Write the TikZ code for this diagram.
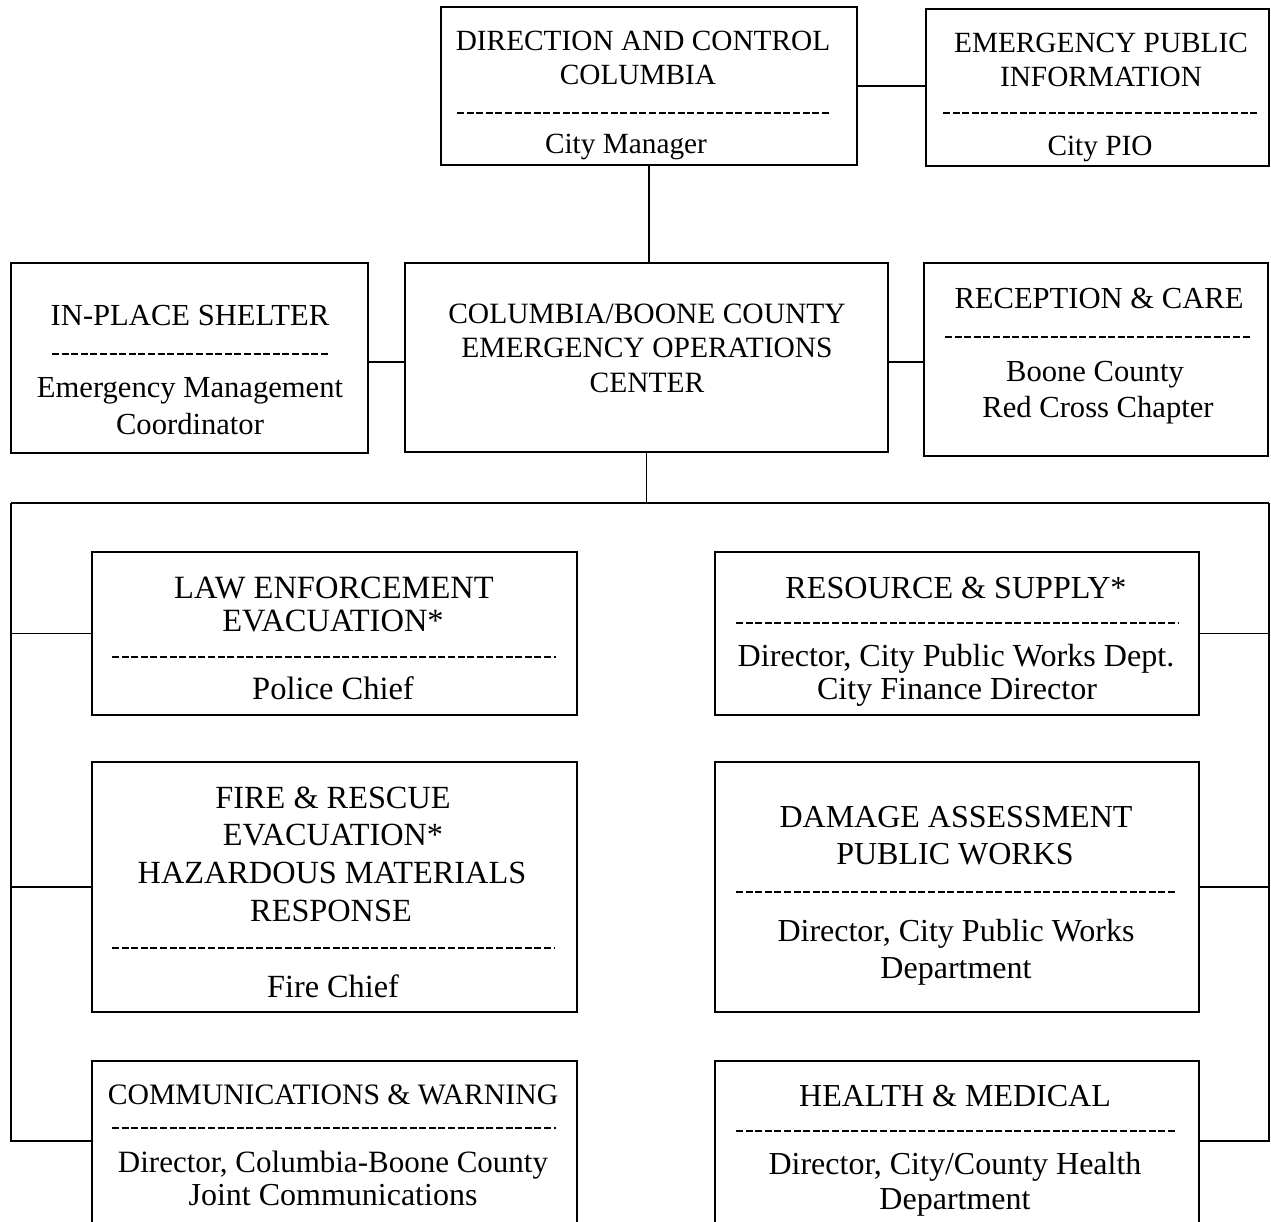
\documentclass[tikz,border=0pt]{standalone}
\usepackage{fontspec}
\setmainfont{Liberation Serif}
\begin{document}
\begin{tikzpicture}[x=1pt,y=-1pt,
  box/.style={draw, line width=1.8pt, inner sep=0pt, outer sep=0pt, rectangle},
  txt/.style={anchor=base, inner sep=0pt, font=\fontsize{29}{34}\selectfont},
  fs/.style={font=\fontsize{#1}{#1}\selectfont},
  sep/.style={line width=1.5pt, dash pattern=on 7pt off 2.6pt},
  conn/.style={line width=1.8pt}]
\useasboundingbox (0,0) rectangle (1271,1222);
\clip (0,0) rectangle (1271,1222);
\fill[white] (0,0) rectangle (1271,1222);

% boxes
\node[box, minimum width=416pt, minimum height=158pt] (DC) at (649,86) {};
\node[box, minimum width=343pt, minimum height=157pt] (EPI) at (1097.5,87.5) {};
\node[box, minimum width=357pt, minimum height=190pt] (IPS) at (189.5,358) {};
\node[box, minimum width=483pt, minimum height=189pt] (EOC) at (646.5,357.5) {};
\node[box, minimum width=344pt, minimum height=193pt] (REC) at (1096,359.5) {};
\node[box, minimum width=485pt, minimum height=163pt] (LAW) at (334.5,633.5) {};
\node[box, minimum width=484pt, minimum height=163pt] (RES) at (957,633.5) {};
\node[box, minimum width=485pt, minimum height=250pt] (FIRE) at (334.5,887) {};
\node[box, minimum width=484pt, minimum height=250pt] (DAM) at (957,887) {};
\node[box, minimum width=485pt, minimum height=199pt] (COMM) at (334.5,1160.5) {};
\node[box, minimum width=484pt, minimum height=199pt] (HEA) at (957,1160.5) {};

% texts
\node[txt, fs=29.3] (dc1) at (643,51) {DIRECTION AND CONTROL};
\node[txt, fs=29.3] (dc2) at (638,85) {COLUMBIA};
\node[txt, fs=29.3] (dc3) at (626,154) {City Manager};
\draw[sep] (457,113) -- (829,113);

\node[txt, fs=29.3] (ep1) at (1101,53) {EMERGENCY PUBLIC};
\node[txt, fs=29.3] (ep2) at (1101,87) {INFORMATION};
\node[txt, fs=29.3] (ep3) at (1100,156) {City PIO};
\draw[sep] (943,113) -- (1257,113);

\node[txt, fs=30.6] (ip1) at (190,325.5) {IN-PLACE SHELTER};
\node[txt, fs=30.6] (ip2) at (190,397.5) {Emergency Management};
\node[txt, fs=30.6] (ip3) at (190,434.5) {Coordinator};
\draw[sep] (52,354) -- (328,354);

\node[txt, fs=29.5] (eo1) at (647,324) {COLUMBIA/BOONE COUNTY};
\node[txt, fs=29.5] (eo2) at (647,358) {EMERGENCY OPERATIONS};
\node[txt, fs=29.5] (eo3) at (647,392) {CENTER};

\node[txt, fs=30.6] (rc1) at (1099,308.5) {RECEPTION \& CARE};
\node[txt, fs=30.6] (rc2) at (1095,381.5) {Boone County};
\node[txt, fs=30.6] (rc3) at (1098,417.5) {Red Cross Chapter};
\draw[sep] (945,337) -- (1250,337);

\node[txt, fs=32.5] (lw1) at (334,598) {LAW ENFORCEMENT};
\node[txt, fs=32.5] (lw2) at (333,631) {EVACUATION*};
\node[txt, fs=32.5] (lw3) at (333,699) {Police Chief};
\draw[sep] (112,657) -- (556,657);

\node[txt, fs=32.1] (rs1) at (956,598.5) {RESOURCE \& SUPPLY*};
\node[txt, fs=32.1] (rs2) at (956,666.5) {Director, City Public Works Dept.};
\node[txt, fs=32.1] (rs3) at (957,699.5) {City Finance Director};
\draw[sep] (736,623) -- (1178,623);

\node[txt, fs=32.3] (fr1) at (333,808.5) {FIRE \& RESCUE};
\node[txt, fs=32.3] (fr2) at (333,845.5) {EVACUATION*};
\node[txt, fs=32.3] (fr3) at (332,883.5) {HAZARDOUS MATERIALS};
\node[txt, fs=32.3] (fr4) at (331,921.5) {RESPONSE};
\node[txt, fs=32.3] (fr5) at (333,997.5) {Fire Chief};
\draw[sep] (112,948) -- (554,948);

\node[txt, fs=32] (dm1) at (956,827.5) {DAMAGE ASSESSMENT};
\node[txt, fs=32] (dm2) at (955,864.5) {PUBLIC WORKS};
\node[txt, fs=32] (dm3) at (956,941.5) {Director, City Public Works};
\node[txt, fs=32] (dm4) at (956,978.5) {Department};
\draw[sep] (736,892) -- (1176,892);

\node[txt, fs=29.7] (cm1) at (333,1104.5) {COMMUNICATIONS \& WARNING};
\node[txt, fs=31] (cm2) at (333,1172) {Director, Columbia-Boone County};
\node[txt, fs=32] (cm3) at (333,1205.5) {Joint Communications};
\draw[sep] (112,1128) -- (556,1128);

\node[txt, fs=32] (hm1) at (955,1106.5) {HEALTH \& MEDICAL};
\node[txt, fs=32] (hm2) at (955,1174.5) {Director, City/County Health};
\node[txt, fs=32] (hm3) at (955,1209.5) {Department};
\draw[sep] (736,1131) -- (1176,1131);

% connectors
\coordinate (busL) at (11,503);
\coordinate (busR) at (1269,503);
\draw[conn] (DC.east) -- (DC.east -| EPI.west);
\draw[conn] (DC.south) -- (DC.south |- EOC.north);
\draw[conn] ([yshift=-4pt]IPS.east) -- ([yshift=-4pt]IPS.east -| EOC.west);
\draw[conn] ([yshift=-4.5pt]EOC.east) -- ([yshift=-4.5pt]EOC.east -| REC.west);
\draw[conn] (EOC.south) -- (EOC.south |- busL);
\draw[conn] (busL) -- (busR);
\draw[conn] (busL) |- ([yshift=19.5pt]COMM.west);
\draw[conn] (busR) |- ([yshift=19.5pt]HEA.east);
\draw[conn] (busL |- LAW.west) -- (LAW.west);
\draw[conn] (busL |- FIRE.west) -- (FIRE.west);
\draw[conn] (busR |- RES.east) -- (RES.east);
\draw[conn] (busR |- DAM.east) -- (DAM.east);
\end{tikzpicture}
\end{document}
